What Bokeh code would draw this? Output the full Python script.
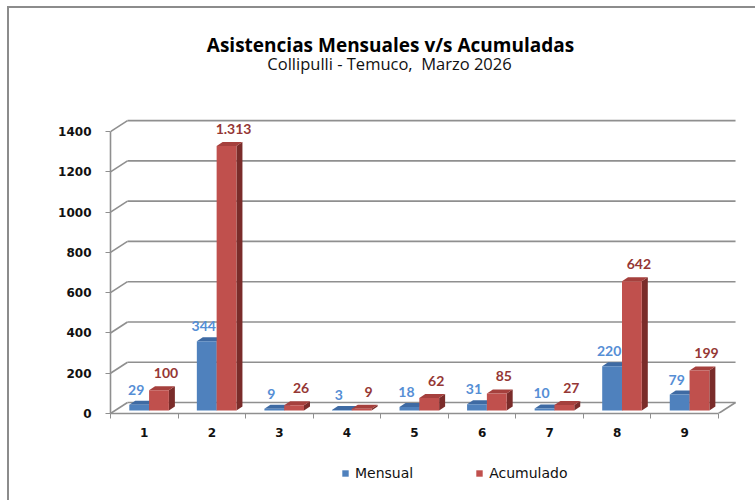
from bokeh.plotting import figure
from bokeh.layouts import column
from bokeh.models import Range1d, FixedTicker, Label, Legend, LegendItem
from bokeh.embed import file_html
from bokeh.resources import INLINE
from bokeh.core.properties import value

# ---- data ----
categories = [1, 2, 3, 4, 5, 6, 7, 8, 9]
mensual = [29, 344, 9, 3, 18, 31, 10, 220, 79]
acumulado = [100, 1313, 26, 9, 62, 85, 27, 642, 199]
y_ticks = [0, 200, 400, 600, 800, 1000, 1200, 1400]
series_names = ["Mensual", "Acumulado"]
title_text = "Asistencias Mensuales v/s Acumuladas"
subtitle_text = "Collipulli - Temuco, \u00a0Marzo 2026"

# ---- layout: page content starts at x=9, y=8 ----
W = 746
H_TOP, H_MAIN, H_LEG = 100, 352, 40
ML, MR, MT, MB = 101, 17, 9, 47
FW = W - ML - MR
FH = H_MAIN - MT - MB
PAGE_L = 9 + ML                # page x of the (shared) frame's left edge
PAGE_R = PAGE_L + FW
PPX = 67.56
X0 = 0.5
X1 = X0 + FW / PPX
Y1 = 1470
UX = 1.0 / PPX
UY = Y1 / FH

WALL_DX, WALL_DY = 17 * UX, 11 * UY
BAR_W = 19.8 * UX
BX0, BY0 = 4.8 * UX, 3 * UY
DDX, DDY = 6 * UX, 4 * UY

GRID_COLOR = "#8f8f8f"
BLUE = dict(front="#4F81BD", top="#3E6AA3", side="#2F4F7A", label="#558ED5")
RED = dict(front="#C0504D", top="#A5403D", side="#7A2C2A", label="#953735")


def blank_fig(h):
    f = figure(width=W, height=h, x_range=Range1d(PAGE_L, PAGE_R), y_range=Range1d(h, 0),
               output_backend="svg", toolbar_location=None,
               x_axis_location=None, y_axis_location=None,
               min_border_left=ML, min_border_right=MR, min_border_top=0, min_border_bottom=0)
    f.outline_line_color = None
    f.xgrid.visible = False
    f.ygrid.visible = False
    f.background_fill_color = "white"
    f.border_fill_color = "white"
    return f

# ---- title block ----
tfig = blank_fig(H_TOP)
tfig.add_layout(Label(x=390, y=36, text=title_text, text_align="center", text_baseline="middle",
                      text_font="Open Sans", text_font_style="bold", text_font_size="19px",
                      text_color="#000000"))
tfig.add_layout(Label(x=389, y=55, text=subtitle_text, text_align="center", text_baseline="middle",
                      text_font="Open Sans", text_font_size="16.5px", text_color="#111111"))

# ---- main chart ----
p = figure(width=W, height=H_MAIN, x_range=Range1d(X0, X1), y_range=Range1d(0, Y1),
           output_backend="svg", toolbar_location=None,
           min_border_left=ML, min_border_right=MR, min_border_top=MT, min_border_bottom=MB)
p.outline_line_color = None
p.xgrid.visible = False
p.ygrid.visible = False
p.background_fill_color = "white"
p.border_fill_color = "white"

x_left = X0
x_right = X0 + len(categories)
gx0, gy0, gx1, gy1 = [], [], [], []
for v in y_ticks:
    gx0 += [x_left, x_left + WALL_DX]
    gy0 += [v, v + WALL_DY]
    gx1 += [x_left + WALL_DX, x_right + WALL_DX]
    gy1 += [v + WALL_DY, v + WALL_DY]
gx0.append(x_right); gy0.append(0); gx1.append(x_right + WALL_DX); gy1.append(WALL_DY)
p.segment(gx0, gy0, gx1, gy1, line_color=GRID_COLOR, line_width=1.6)


def bars(vals, s, colors):
    L, R, B, T = [], [], [], []
    for c, v in zip(categories, vals):
        l = c - BAR_W + BX0 if s == 0 else c + BX0
        L.append(l); R.append(l + BAR_W); B.append(BY0); T.append(v + BY0)
    side_xs = [[r, r + DDX, r + DDX, r] for r in R]
    side_ys = [[b, b + DDY, t + DDY, t] for b, t in zip(B, T)]
    top_xs = [[l, r, r + DDX, l + DDX] for l, r in zip(L, R)]
    top_ys = [[t, t, t + DDY, t + DDY] for t in T]
    p.patches(side_xs, side_ys, fill_color=colors["side"], line_color=None)
    p.patches(top_xs, top_ys, fill_color=colors["top"], line_color=None)
    p.quad(left=L, right=R, bottom=B, top=T, fill_color=colors["front"], line_color=None)
    return L, R, T

Lb, Rb, Tb = bars(mensual, 0, BLUE)
Lr, Rr, Tr = bars(acumulado, 1, RED)


def fmt(v):
    return f"{v:,}".replace(",", ".")

p.text(x=[(l + r) / 2 for l, r in zip(Lb, Rb)], y=Tb, text=[fmt(v) for v in mensual],
       x_offset=-3, y_offset=-15, text_align="center", text_baseline="middle",
       text_font=value("Lato"), text_font_style="bold", text_font_size="14px",
       text_color=BLUE["label"])
p.text(x=[(l + r) / 2 for l, r in zip(Lr, Rr)], y=Tr, text=[fmt(v) for v in acumulado],
       x_offset=7, y_offset=-17, text_align="center", text_baseline="middle",
       text_font=value("Lato"), text_font_style="bold", text_font_size="14px",
       text_color=RED["label"])

ya = p.yaxis[0]
ya.ticker = FixedTicker(ticks=y_ticks)
ya.bounds = (0, 1400)
ya.axis_line_color = GRID_COLOR
ya.axis_line_width = 1.6
ya.major_tick_line_color = GRID_COLOR
ya.major_tick_out = 5
ya.major_tick_in = 0
ya.minor_tick_line_color = None
ya.major_label_standoff = 14
ya.major_label_text_font = "DejaVu Sans"
ya.major_label_text_font_style = "bold"
ya.major_label_text_font_size = "12px"
ya.major_label_text_color = "#111111"

xa = p.xaxis[0]
xa.ticker = FixedTicker(ticks=categories, minor_ticks=[c - 0.5 for c in categories] + [categories[-1] + 0.5])
xa.bounds = (X0, x_right)
xa.axis_line_color = GRID_COLOR
xa.axis_line_width = 1.6
xa.major_tick_out = 0
xa.major_tick_in = 0
xa.minor_tick_out = 5
xa.minor_tick_in = 0
xa.minor_tick_line_color = GRID_COLOR
xa.major_label_standoff = 9
xa.major_label_text_font = "DejaVu Sans"
xa.major_label_text_font_style = "bold"
xa.major_label_text_font_size = "12px"
xa.major_label_text_color = "#111111"

# ---- legend block (swatch renderers sit outside the visible range) ----
lfig = blank_fig(H_LEG)
rb = lfig.quad(left=[0], right=[1], bottom=[0], top=[1], fill_color=BLUE["front"], line_color=None)
rr = lfig.quad(left=[0], right=[1], bottom=[0], top=[1], fill_color=RED["front"], line_color=None)
legend = Legend(items=[LegendItem(label=series_names[0], renderers=[rb]),
                       LegendItem(label=series_names[1], renderers=[rr])],
                orientation="horizontal", location=(341 - PAGE_L, 19),
                glyph_width=8, glyph_height=8, spacing=62, label_standoff=6,
                padding=0, margin=0, border_line_color=None, background_fill_alpha=0,
                label_text_font="DejaVu Sans", label_text_font_size="14px",
                label_text_color="#111111")
lfig.add_layout(legend)

page = column(tfig, p, lfig, spacing=0)
page.styles = {"position": "relative", "left": "7px", "top": "6px",
               "border-left": "2px solid #8c8c8c", "border-top": "2px solid #8c8c8c"}

open("out.html", "w").write(file_html(page, INLINE))
